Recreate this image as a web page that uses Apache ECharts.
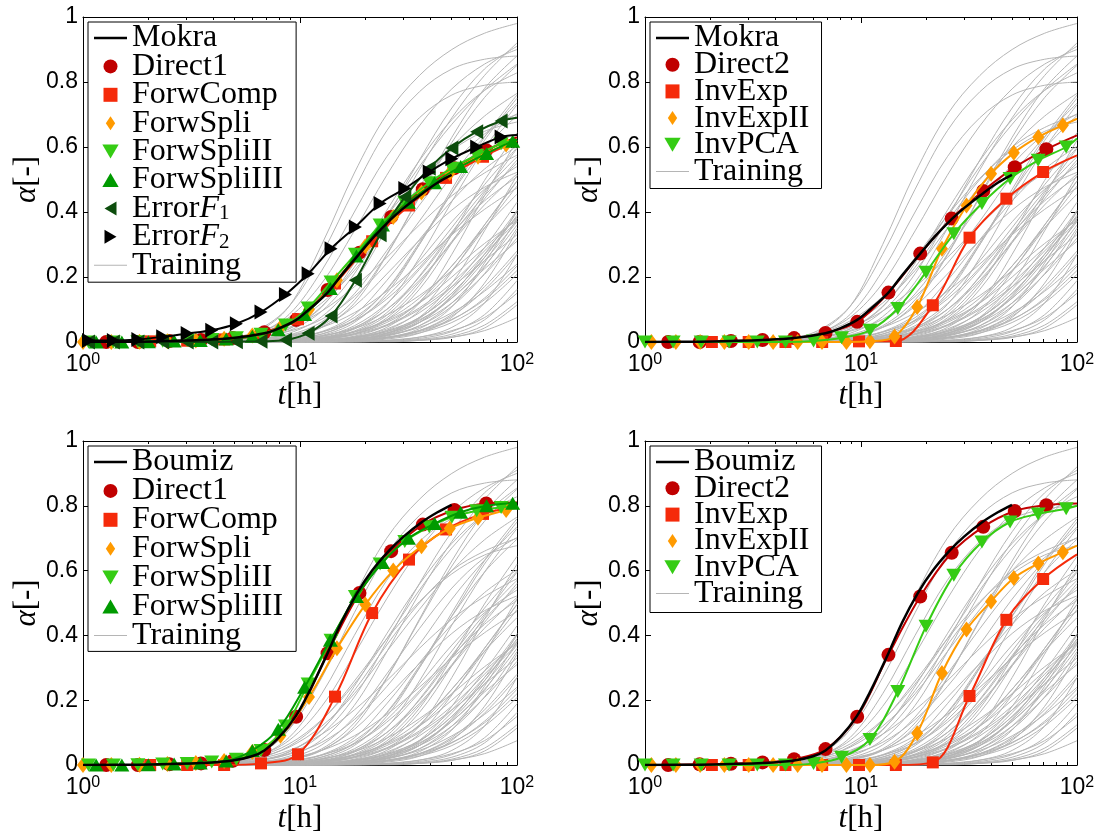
<!DOCTYPE html>
<html>
<head>
<meta charset="utf-8">
<script src="https://cdn.jsdelivr.net/npm/echarts@6/dist/echarts.min.js"></script>
<style>
  html, body { margin: 0; padding: 0; background: #fff; }
  #chart { width: 1102px; height: 835px; }
</style>
</head>
<body>
<div id="chart"></div>
<script>
// ---------------- training set (shared by all four panels) ----------------
const trainingT = [1, 3.16, 4.47, 6.31, 8.91, 12.6, 17.8, 25.1, 35.5, 50.1, 70.8, 100];
const trainingA = [
  [0, 0, 0.006, 0.03, 0.11, 0.3, 0.52, 0.7, 0.82, 0.9, 0.95, 0.98],
  [0, 0, 0.009, 0.027, 0.076, 0.181, 0.342, 0.513, 0.665, 0.779, 0.855, 0.9],
  [0, 0, 0.005, 0.025, 0.085, 0.22, 0.4, 0.57, 0.69, 0.76, 0.79, 0.8],
  [0, 0, 0.005, 0.014, 0.041, 0.108, 0.243, 0.405, 0.558, 0.684, 0.774, 0.828],
  [0, 0, 0.003, 0.009, 0.027, 0.078, 0.184, 0.349, 0.53, 0.69, 0.82, 0.92],
  [0, 0, 0.006, 0.022, 0.055, 0.12, 0.22, 0.35, 0.48, 0.6, 0.695, 0.765],
  [0, 0, 0.006, 0.02, 0.058, 0.137, 0.259, 0.389, 0.504, 0.59, 0.648, 0.677],
  [0, 0, 0.002, 0.005, 0.015, 0.045, 0.119, 0.267, 0.446, 0.614, 0.752, 0.851],
  [0, 0, 0.005, 0.014, 0.033, 0.07, 0.14, 0.242, 0.372, 0.512, 0.632, 0.735],
  [0, 0, 0.001, 0.003, 0.008, 0.024, 0.068, 0.162, 0.306, 0.459, 0.595, 0.697],
  [0, 0, 0.002, 0.007, 0.022, 0.062, 0.148, 0.281, 0.421, 0.546, 0.64, 0.702],
  [0, 0, 0.005, 0.018, 0.045, 0.095, 0.17, 0.26, 0.36, 0.45, 0.52, 0.575],
  [0, 0, 0, 0.002, 0.005, 0.014, 0.043, 0.115, 0.259, 0.432, 0.595, 0.73],
  [0, 0, 0, 0.004, 0.013, 0.031, 0.066, 0.132, 0.229, 0.352, 0.484, 0.598],
  [0, 0, 0.001, 0.004, 0.011, 0.032, 0.084, 0.189, 0.315, 0.434, 0.532, 0.602],
  [0, 0, 0.001, 0.002, 0.006, 0.017, 0.05, 0.118, 0.223, 0.335, 0.434, 0.508],
  [0, 0, 0, 0.001, 0.003, 0.008, 0.026, 0.074, 0.175, 0.331, 0.497, 0.644],
  [0, 0, 0, 0.002, 0.004, 0.011, 0.034, 0.09, 0.203, 0.338, 0.465, 0.57],
  [0, 0, 0, 0, 0.002, 0.005, 0.015, 0.045, 0.12, 0.27, 0.45, 0.62],
  [0, 0, 0, 0, 0.005, 0.014, 0.032, 0.068, 0.135, 0.234, 0.36, 0.495],
  [0, 0, 0, 0, 0.002, 0.004, 0.012, 0.036, 0.096, 0.216, 0.36, 0.496],
  [0, 0, 0, 0, 0.001, 0.003, 0.009, 0.027, 0.076, 0.181, 0.342, 0.513],
  [0, 0, 0, 0, 0.004, 0.011, 0.025, 0.053, 0.105, 0.182, 0.28, 0.385],
  [0, 0, 0, 0.001, 0.003, 0.008, 0.024, 0.068, 0.162, 0.306, 0.459, 0.595],
  [0, 0, 0, 0.001, 0.002, 0.006, 0.018, 0.052, 0.124, 0.234, 0.351, 0.455],
  [0, 0, 0, 0, 0, 0.005, 0.015, 0.035, 0.075, 0.15, 0.26, 0.4],
  [0, 0, 0, 0, 0, 0.002, 0.005, 0.014, 0.041, 0.108, 0.243, 0.405],
  [0, 0, 0, 0, 0, 0.004, 0.012, 0.028, 0.06, 0.12, 0.208, 0.32],
  [0, 0, 0, 0, 0, 0.001, 0.003, 0.009, 0.027, 0.076, 0.181, 0.342],
  [0, 0, 0, 0, 0.001, 0.003, 0.009, 0.027, 0.072, 0.162, 0.27, 0.372],
  [0, 0, 0, 0, 0.001, 0.002, 0.007, 0.021, 0.06, 0.143, 0.27, 0.405],
  [0, 0, 0, 0.003, 0.008, 0.019, 0.041, 0.083, 0.143, 0.22, 0.303, 0.374],
  [0, 0, 0, 0, 0, 0, 0.002, 0.005, 0.015, 0.045, 0.12, 0.27],
  [0, 0, 0, 0, 0, 0, 0.005, 0.014, 0.032, 0.068, 0.135, 0.234],
  [0, 0, 0, 0, 0, 0, 0.001, 0.003, 0.008, 0.024, 0.068, 0.162],
  [0, 0, 0, 0, 0, 0, 0, 0.005, 0.015, 0.035, 0.075, 0.15],
  [0, 0, 0, 0, 0, 0, 0, 0.002, 0.005, 0.014, 0.043, 0.114],
  [0, 0, 0, 0, 0, 0, 0.001, 0.004, 0.011, 0.032, 0.084, 0.189],
  [0, 0, 0, 0, 0, 0, 0.004, 0.012, 0.028, 0.06, 0.12, 0.208],
  [0, 0, 0, 0, 0, 0, 0, 0, 0.005, 0.015, 0.035, 0.075],
  [0, 0, 0, 0, 0, 0.005, 0.014, 0.032, 0.068, 0.135, 0.234, 0.36],
  [0, 0, 0, 0, 0, 0.003, 0.009, 0.021, 0.045, 0.09, 0.156, 0.24],
  [0, 0, 0, 0, 0.001, 0.003, 0.008, 0.023, 0.06, 0.135, 0.225, 0.31],
  [0, 0, 0, 0, 0, 0, 0.001, 0.002, 0.006, 0.018, 0.052, 0.124],
  [0, 0, 0.003, 0.009, 0.021, 0.045, 0.09, 0.156, 0.24, 0.33, 0.408, 0.474],
  [0, 0, 0, 0.001, 0.003, 0.01, 0.031, 0.082, 0.184, 0.306, 0.422, 0.517],
  [0, 0, 0.002, 0.005, 0.016, 0.046, 0.11, 0.209, 0.313, 0.406, 0.476, 0.522],
  [0, 0, 0.006, 0.025, 0.065, 0.14, 0.25, 0.39, 0.54, 0.67, 0.775, 0.855],
  [0, 0, 0.004, 0.012, 0.035, 0.095, 0.21, 0.38, 0.56, 0.72, 0.84, 0.91],
  [0, 0, 0.002, 0.006, 0.018, 0.05, 0.13, 0.27, 0.45, 0.63, 0.78, 0.88],
  [0, 0, 0, 0.003, 0.01, 0.03, 0.075, 0.16, 0.3, 0.46, 0.62, 0.75],
  [0, 0, 0, 0.002, 0.006, 0.018, 0.045, 0.1, 0.19, 0.31, 0.44, 0.56],
  [0, 0, 0, 0, 0.003, 0.01, 0.025, 0.06, 0.12, 0.22, 0.35, 0.48],
  [0, 0, 0, 0, 0.002, 0.006, 0.016, 0.04, 0.09, 0.17, 0.29, 0.43],
  [0, 0, 0, 0, 0, 0.003, 0.008, 0.02, 0.05, 0.11, 0.21, 0.35],
  [0, 0, 0, 0, 0, 0.002, 0.006, 0.015, 0.035, 0.07, 0.13, 0.22],
  [0, 0, 0, 0, 0.001, 0.004, 0.012, 0.032, 0.075, 0.15, 0.26, 0.39],
  [0, 0, 0, 0, 0, 0.002, 0.008, 0.025, 0.065, 0.14, 0.25, 0.37],
  [0, 0, 0, 0.001, 0.004, 0.012, 0.03, 0.065, 0.12, 0.2, 0.29, 0.38],
  [0, 0, 0, 0, 0.002, 0.008, 0.022, 0.05, 0.1, 0.17, 0.25, 0.33],
  [0, 0, 0, 0, 0, 0.001, 0.005, 0.018, 0.05, 0.12, 0.23, 0.38],
  [0, 0, 0, 0.002, 0.008, 0.025, 0.065, 0.14, 0.25, 0.37, 0.47, 0.54],
  [0, 0, 0, 0, 0.003, 0.012, 0.04, 0.1, 0.2, 0.33, 0.45, 0.55],
  [0, 0, 0.003, 0.012, 0.04, 0.11, 0.23, 0.37, 0.5, 0.6, 0.66, 0.7],
  [0, 0, 0, 0, 0, 0, 0.003, 0.012, 0.035, 0.085, 0.17, 0.28],
  [0, 0, 0, 0, 0, 0.001, 0.004, 0.013, 0.035, 0.08, 0.16, 0.27],
  [0, 0, 0.008, 0.035, 0.11, 0.27, 0.47, 0.65, 0.77, 0.84, 0.87, 0.88],
  [0, 0, 0, 0.001, 0.005, 0.02, 0.06, 0.15, 0.3, 0.47, 0.63, 0.76]
];

// ---------------- reference curves ----------------
const mokraT = [1, 1.79, 2.5, 3.5, 4.9, 6.85, 8, 9.6, 11, 13.4, 15.5, 18.8, 22, 26.3, 30, 36.8, 43, 50];
const mokraA = [0, 0.001, 0.003, 0.006, 0.012, 0.027, 0.042, 0.068, 0.1, 0.152, 0.205, 0.272, 0.325, 0.378, 0.412, 0.458, 0.49, 0.514];
const boumizT = [1, 1.79, 2.5, 3.5, 4.9, 6.0, 6.85, 8, 9.55, 11, 13.4, 15.5, 18.3, 21.5, 25.6, 30, 36.5, 43, 50];
const boumizA = [0, 0.001, 0.003, 0.006, 0.014, 0.027, 0.045, 0.085, 0.15, 0.225, 0.345, 0.44, 0.53, 0.6, 0.66, 0.705, 0.75, 0.78, 0.803];

// ---------------- sampling times of the estimates (t = 100 closes the curve, no marker) ----------------
const tDirect  = [1.28, 1.79, 2.5, 3.5, 4.9, 6.85, 9.6, 13.4, 18.8, 26.3, 36.8, 51.5, 72.1, 100];
const tSquare  = [2.04, 3.02, 4.47, 6.61, 9.79, 14.5, 21.5, 31.8, 47.1, 69.7, 100];
const tSpli    = [1, 1.35, 1.82, 2.45, 3.31, 4.47, 6.03, 8.13, 11.0, 14.8, 20.0, 26.9, 36.3, 49.0, 66.1, 89.1, 100];
const tSpliII  = [1.06, 1.38, 1.79, 2.33, 3.02, 3.92, 5.09, 6.61, 8.57, 10.9, 13.9, 18.0, 23.4, 30.4, 39.4, 50.1, 65.2, 84.5, 100];
const tSpliIII = [1.15, 1.51, 2.0, 2.63, 3.47, 4.57, 6.03, 7.94, 10.5, 13.8, 18.2, 24.0, 31.6, 41.7, 55.0, 72.4, 95.5, 100];
const tExpII   = [1.07, 1.39, 1.8, 2.33, 3.02, 3.92, 5.09, 6.6, 8.56, 11.0, 14.3, 18.2, 23.7, 30.8, 40.0, 51.0, 66.2, 86.0, 100];

// ---------------- top-left: Mokra, forward estimates ----------------
const tlDirect1     = [0, 0, 0.003, 0.006, 0.012, 0.03, 0.068, 0.16, 0.275, 0.385, 0.47, 0.535, 0.59, 0.63];
const tlForwComp    = [0.002, 0.004, 0.008, 0.022, 0.07, 0.18, 0.31, 0.42, 0.505, 0.57, 0.618];
const tlForwSpli    = [0, 0, 0.001, 0.002, 0.005, 0.01, 0.02, 0.045, 0.1, 0.19, 0.295, 0.385, 0.46, 0.52, 0.57, 0.608, 0.62];
const tlForwSpliII  = [0, 0, 0.001, 0.002, 0.005, 0.008, 0.013, 0.024, 0.052, 0.105, 0.185, 0.27, 0.36, 0.43, 0.49, 0.535, 0.575, 0.61, 0.622];
const tlForwSpliIII = [0, 0, 0.001, 0.003, 0.005, 0.009, 0.018, 0.038, 0.085, 0.165, 0.265, 0.36, 0.43, 0.49, 0.54, 0.58, 0.618, 0.622];
const tlErrorF1     = [0, 0, 0, 0, 0, 0, 0.001, 0.002, 0.006, 0.027, 0.08, 0.19, 0.33, 0.446, 0.535, 0.597, 0.647, 0.68, 0.69];
const tlErrorF2     = [0.005, 0.005, 0.008, 0.016, 0.026, 0.036, 0.056, 0.092, 0.146, 0.21, 0.287, 0.354, 0.426, 0.472, 0.523, 0.564, 0.6, 0.631, 0.637];

// ---------------- top-right: Mokra, inverse estimates ----------------
const trDirect2 = [0, 0, 0.003, 0.006, 0.012, 0.028, 0.062, 0.152, 0.272, 0.38, 0.465, 0.538, 0.593, 0.636];
const trInvExp  = [0, 0, 0, 0, 0.002, 0.003, 0.113, 0.321, 0.441, 0.523, 0.574];
const trInvExpII = [0, 0, 0, 0, 0, 0, 0, 0, 0, 0.002, 0.017, 0.108, 0.287, 0.42, 0.518, 0.582, 0.631, 0.667, 0.687];
const trInvPCA  = [0, 0, 0, 0, 0, 0, 0.003, 0.013, 0.036, 0.103, 0.215, 0.333, 0.426, 0.503, 0.559, 0.6, 0.626];

// ---------------- bottom-left: Boumiz, forward estimates ----------------
const blDirect1     = [0, 0, 0.002, 0.005, 0.013, 0.046, 0.149, 0.345, 0.531, 0.66, 0.742, 0.787, 0.807, 0.81];
const blForwComp    = [0, 0, 0, 0.005, 0.033, 0.211, 0.469, 0.634, 0.727, 0.775, 0.797];
const blForwSpli    = [0, 0, 0.001, 0.003, 0.006, 0.012, 0.04, 0.09, 0.21, 0.36, 0.495, 0.6, 0.675, 0.73, 0.763, 0.787, 0.795];
const blForwSpliII  = [0, 0, 0.001, 0.003, 0.005, 0.009, 0.018, 0.045, 0.12, 0.25, 0.385, 0.52, 0.62, 0.69, 0.735, 0.765, 0.785, 0.795, 0.8];
const blForwSpliIII = [0, 0, 0.001, 0.003, 0.006, 0.012, 0.045, 0.11, 0.24, 0.385, 0.52, 0.625, 0.7, 0.745, 0.78, 0.8, 0.808, 0.808];

// ---------------- bottom-right: Boumiz, inverse estimates ----------------
const brDirect2  = [0, 0.002, 0.004, 0.008, 0.018, 0.049, 0.149, 0.34, 0.52, 0.655, 0.735, 0.784, 0.802, 0.807];
const brInvExp   = [0, 0, 0, 0, 0, 0, 0.008, 0.213, 0.448, 0.574, 0.65];
const brInvExpII = [0, 0, 0, 0, 0, 0, 0, 0, 0, 0, 0.01, 0.098, 0.284, 0.418, 0.505, 0.577, 0.622, 0.657, 0.677];
const brInvPCA   = [0, 0, 0, 0, 0, 0, 0.005, 0.024, 0.079, 0.227, 0.428, 0.586, 0.688, 0.75, 0.775, 0.791, 0.8];

// ---------------- styling ----------------
const SANS = "'Liberation Sans', Arial, Helvetica, sans-serif";
const SERIF = "'Liberation Serif', 'Times New Roman', serif";
const COL = {
  ref: '#000000', direct: '#c00000', comp: '#f52a0a', spli: '#ff9a00',
  spliII: '#35cc14', spliIII: '#009a00', errF1: '#0d4d0d', errF2: '#000000', train: '#b5b5b5'
};
const MARK = {
  circle:  { symbol: 'circle', size: 14, icon: 'circle' },
  square:  { symbol: 'rect', size: 12, icon: 'path://M0,0L10,0L10,10L0,10Z' },
  diamond: { symbol: 'path://M5,0L10,7.5L5,15L0,7.5Z', size: [12, 16] },
  down:    { symbol: 'path://M0,0L14,0L7,12Z', size: [15, 13] },
  up:      { symbol: 'path://M7,0L14,12L0,12Z', size: [15, 13] },
  left:    { symbol: 'path://M12,0L12,14L0,7Z', size: [13, 15] },
  right:   { symbol: 'path://M0,0L12,7L0,14Z', size: [13, 15] }
};
['diamond', 'down', 'up', 'left', 'right'].forEach(k => { MARK[k].icon = MARK[k].symbol; });

const grids = [
  { left: 83, top: 17, width: 434, height: 325 },
  { left: 645, top: 17, width: 432, height: 325 },
  { left: 83, top: 441, width: 434, height: 325 },
  { left: 645, top: 441, width: 432, height: 325 }
];

// panel contents: reference curve, estimates [name, times, values, marker, colour], legend box
const panels = [
  { ref: ['Mokra', mokraT, mokraA],
    est: [
      ['Direct1', tDirect, tlDirect1, 'circle', COL.direct],
      ['ForwComp', tSquare, tlForwComp, 'square', COL.comp],
      ['ForwSpli', tSpli, tlForwSpli, 'diamond', COL.spli],
      ['ForwSpliII', tSpliII, tlForwSpliII, 'down', COL.spliII],
      ['ForwSpliIII', tSpliIII, tlForwSpliIII, 'up', COL.spliIII],
      ['ErrorF1', tSpliII, tlErrorF1, 'left', COL.errF1],
      ['ErrorF2', tSpliII, tlErrorF2, 'right', COL.errF2]
    ],
    legend: { left: 88, top: 22, gap: -3.6, pad: [0, 13, 1, 6] } },
  { ref: ['Mokra', mokraT, mokraA],
    est: [
      ['Direct2', tDirect, trDirect2, 'circle', COL.direct],
      ['InvExp', tSquare, trInvExp, 'square', COL.comp],
      ['InvExpII', tExpII, trInvExpII, 'diamond', COL.spli],
      ['InvPCA', tSpli, trInvPCA, 'down', COL.spliII]
    ],
    legend: { left: 650, top: 22, gap: -5.3, pad: [0, 12, 1, 6] } },
  { ref: ['Boumiz', boumizT, boumizA],
    est: [
      ['Direct1', tDirect, blDirect1, 'circle', COL.direct],
      ['ForwComp', tSquare, blForwComp, 'square', COL.comp],
      ['ForwSpli', tSpli, blForwSpli, 'diamond', COL.spli],
      ['ForwSpliII', tSpliII, blForwSpliII, 'down', COL.spliII],
      ['ForwSpliIII', tSpliIII, blForwSpliIII, 'up', COL.spliIII]
    ],
    legend: { left: 88, top: 446, gap: -3.1, pad: [0, 13, 0, 6] } },
  { ref: ['Boumiz', boumizT, boumizA],
    est: [
      ['Direct2', tDirect, brDirect2, 'circle', COL.direct],
      ['InvExp', tSquare, brInvExp, 'square', COL.comp],
      ['InvExpII', tExpII, brInvExpII, 'diamond', COL.spli],
      ['InvPCA', tSpli, brInvPCA, 'down', COL.spliII]
    ],
    legend: { left: 650, top: 446, gap: -5.7, pad: [0, 12, 3, 6] } }
];

function points(ts, as, marked) {
  return ts.map((t, i) => {
    const p = { value: [t, as[i]] };
    if (!marked || t === 100) p.symbol = 'none';
    return p;
  });
}

const xAxis = [], yAxis = [], series = [], legend = [];

const tickLine = { color: '#000', width: 1 };
grids.forEach((g, gi) => {
  ['bottom', 'top'].forEach(pos => {
    xAxis.push({
      type: 'log', logBase: 10, gridIndex: gi, position: pos, min: 1, max: 100,
      axisLine: { show: true, onZero: false, lineStyle: tickLine },
      axisTick: { show: true, inside: true, length: 6, lineStyle: tickLine },
      minorTick: { show: true, splitNumber: 9, length: 3, lineStyle: tickLine },
      splitLine: { show: false }, minorSplitLine: { show: false },
      axisLabel: pos === 'bottom' ? {
        margin: 10,
        formatter: v => '{b|10}{s|' + Math.round(Math.log10(v)) + '}',
        rich: {
          b: { fontFamily: SANS, fontSize: 23, color: '#000', lineHeight: 26 },
          s: { fontFamily: SANS, fontSize: 16, color: '#000', lineHeight: 4, verticalAlign: 'top' }
        }
      } : { show: false },
      name: pos === 'bottom' ? '{i|t}{n|[h]}' : '',
      nameLocation: 'middle', nameGap: 38,
      nameTextStyle: { fontFamily: SERIF, fontSize: 31, rich: {
        i: { fontFamily: SERIF, fontStyle: 'italic', fontSize: 31, color: '#000' },
        n: { fontFamily: SERIF, fontSize: 31, color: '#000' }
      } }
    });
  });
  ['left', 'right'].forEach(pos => {
    yAxis.push({
      type: 'value', gridIndex: gi, position: pos, min: 0, max: 1, interval: 0.2,
      axisLine: { show: true, onZero: false, lineStyle: tickLine },
      axisTick: { show: true, inside: true, length: 6, lineStyle: tickLine },
      splitLine: { show: false },
      axisLabel: pos === 'left' ? { margin: 5, fontFamily: SANS, fontSize: 23, color: '#000' } : { show: false },
      name: pos === 'left' ? '{a|α}{n|[-]}' : '',
      nameLocation: 'middle', nameGap: 38,
      nameTextStyle: { fontFamily: SERIF, fontSize: 31, rich: {
        a: { fontFamily: SERIF, fontStyle: 'italic', fontSize: 31, color: '#000' },
        n: { fontFamily: SERIF, fontSize: 31, color: '#000' }
      } }
    });
  });
});

panels.forEach((p, gi) => {
  const xi = gi * 2, yi = gi * 2;
  // training curves
  trainingA.forEach(curve => {
    series.push({
      type: 'line', name: 'Training', xAxisIndex: xi, yAxisIndex: yi,
      data: points(trainingT, curve, false), smooth: 0.35, symbol: 'none',
      lineStyle: { color: COL.train, width: 1 }, itemStyle: { color: COL.train },
      silent: true, z: 1
    });
  });
  // estimates
  p.est.forEach(([name, ts, as, mk, col], k) => {
    const m = MARK[mk];
    series.push({
      type: 'line', name, xAxisIndex: xi, yAxisIndex: yi,
      data: points(ts, as, true), smooth: 0.35,
      symbol: m.symbol, symbolSize: m.size, showSymbol: true,
      lineStyle: { color: col, width: 2 }, itemStyle: { color: col },
      silent: true, z: 3 + k
    });
  });
  // reference curve
  series.push({
    type: 'line', name: p.ref[0], xAxisIndex: xi, yAxisIndex: yi,
    data: points(p.ref[1], p.ref[2], false), smooth: 0.35, symbol: 'none',
    lineStyle: { color: COL.ref, width: 2.5 }, itemStyle: { color: COL.ref },
    silent: true, z: 20
  });

  const L = p.legend;
  const items = [{ name: p.ref[0], icon: 'path://M0,0L32,0L32,2.5L0,2.5Z' }]
    .concat(p.est.map(e => ({ name: e[0], icon: MARK[e[3]].icon })))
    .concat([{ name: 'Training', icon: 'path://M0,0L32,0L32,1L0,1Z' }]);
  legend.push({
    orient: 'vertical', left: L.left, top: L.top, padding: L.pad,
    itemWidth: 33, itemHeight: 14, itemGap: L.gap,
    backgroundColor: '#fff', borderColor: '#000', borderWidth: 1,
    selectedMode: false, data: items,
    formatter: n => {
      if (n === 'ErrorF1') return '{n|Error}{i|F}{s|1}';
      if (n === 'ErrorF2') return '{n|Error}{i|F}{s|2}';
      return '{n|' + n + '}';
    },
    textStyle: {
      fontFamily: SERIF, fontSize: 32, color: '#000',
      rich: {
        n: { fontFamily: SERIF, fontSize: 32, color: '#000' },
        i: { fontFamily: SERIF, fontStyle: 'italic', fontSize: 32, color: '#000' },
        s: { fontFamily: SERIF, fontSize: 21, color: '#000', lineHeight: 12, verticalAlign: 'bottom' }
      }
    }
  });
});

const chart = echarts.init(document.getElementById('chart'), null, { renderer: 'canvas' });
chart.setOption({
  animation: false,
  backgroundColor: '#fff',
  textStyle: { fontFamily: SERIF },
  grid: grids,
  xAxis, yAxis, series, legend
});
</script>
</body>
</html>
